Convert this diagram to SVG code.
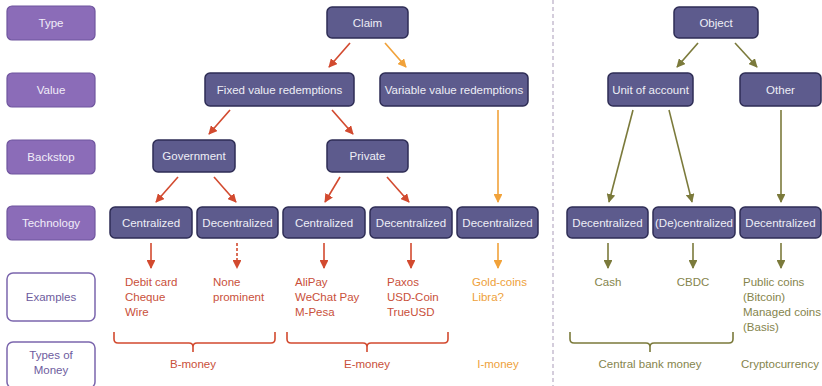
<svg xmlns="http://www.w3.org/2000/svg" width="822" height="386" viewBox="0 0 822 386">
<style>
text{font-family:"Liberation Sans Narrow","Liberation Sans",Arial,sans-serif;font-size:11.5px}
.lab rect{fill:#8b6cb8;stroke:#6f559e;stroke-width:1.2}
.lab text{fill:#f1ecf8;text-anchor:middle}
.lab2 rect{fill:#fff;stroke:#7b66ad;stroke-width:1.5}
.lab2 text{fill:#6e5c9e;text-anchor:middle}
.node rect{fill:#5d5b8d;stroke:#2e2d55;stroke-width:1.5}
.node text{fill:#eeeef6;text-anchor:middle}
.r{stroke:#d24a2f;stroke-width:1.6;fill:none}
.o{stroke:#f1a23a;stroke-width:1.6;fill:none}
.g{stroke:#7b7a3b;stroke-width:1.6;fill:none}
.tr{fill:#c9503a}
.to{fill:#ee9f3a}
.tg{fill:#85844c}
</style>
<defs>
<marker id="ar" viewBox="0 0 10 10" refX="9" refY="5" markerWidth="5.5" markerHeight="5.5" orient="auto"><path d="M0,0L10,5L0,10z" fill="#d24a2f"/></marker>
<marker id="ao" viewBox="0 0 10 10" refX="9" refY="5" markerWidth="5.5" markerHeight="5.5" orient="auto"><path d="M0,0L10,5L0,10z" fill="#f1a23a"/></marker>
<marker id="ag" viewBox="0 0 10 10" refX="9" refY="5" markerWidth="5.5" markerHeight="5.5" orient="auto"><path d="M0,0L10,5L0,10z" fill="#7b7a3b"/></marker>
</defs>
<rect width="822" height="386" fill="#fff"/>
<line x1="553" y1="0" x2="553" y2="386" stroke="#a99bb8" stroke-width="1" stroke-dasharray="4 3"/>

<g id="label-type" class="lab"><rect x="7" y="6" width="88" height="34" rx="5"/><text x="51" y="27">Type</text></g>
<g id="label-value" class="lab"><rect x="7" y="73" width="88" height="34" rx="5"/><text x="51" y="94">Value</text></g>
<g id="label-backstop" class="lab"><rect x="7" y="140" width="88" height="34" rx="5"/><text x="51" y="161">Backstop</text></g>
<g id="label-technology" class="lab"><rect x="7" y="206" width="88" height="34" rx="5"/><text x="51" y="227">Technology</text></g>
<g id="label-examples" class="lab2"><rect x="7" y="273" width="88" height="48" rx="6"/><text x="51" y="301">Examples</text></g>
<g id="label-types" class="lab2"><rect x="7" y="342" width="88" height="46" rx="6"/><text x="51" y="359">Types of</text><text x="51" y="374">Money</text></g>

<g id="n-claim" class="node"><rect x="327" y="7" width="81" height="31" rx="5"/><text x="367.5" y="27">Claim</text></g>
<g id="n-object" class="node"><rect x="674" y="7" width="84" height="31" rx="5"/><text x="716" y="27">Object</text></g>
<g id="n-fixed" class="node"><rect x="205" y="73" width="149" height="33" rx="5"/><text x="279.5" y="94">Fixed value redemptions</text></g>
<g id="n-variable" class="node"><rect x="380" y="73" width="148" height="33" rx="5"/><text x="454" y="94">Variable value redemptions</text></g>
<g id="n-unit" class="node"><rect x="608" y="73" width="85" height="33" rx="5"/><text x="650.5" y="94">Unit of account</text></g>
<g id="n-other" class="node"><rect x="740" y="73" width="81" height="33" rx="5"/><text x="780.5" y="94">Other</text></g>
<g id="n-government" class="node"><rect x="153" y="140" width="82" height="32" rx="5"/><text x="194" y="160">Government</text></g>
<g id="n-private" class="node"><rect x="327" y="140" width="81" height="32" rx="5"/><text x="367.5" y="160">Private</text></g>
<g id="n-b-central" class="node"><rect x="110" y="207" width="82" height="31" rx="5"/><text x="151" y="227">Centralized</text></g>
<g id="n-b-decentral" class="node"><rect x="197" y="207" width="81" height="31" rx="5"/><text x="237.5" y="227">Decentralized</text></g>
<g id="n-e-central" class="node"><rect x="283" y="207" width="82" height="31" rx="5"/><text x="324" y="227">Centralized</text></g>
<g id="n-e-decentral" class="node"><rect x="370" y="207" width="82" height="31" rx="5"/><text x="411" y="227">Decentralized</text></g>
<g id="n-i-decentral" class="node"><rect x="457" y="207" width="81" height="31" rx="5"/><text x="497.5" y="227">Decentralized</text></g>
<g id="n-cash-decentral" class="node"><rect x="567" y="207" width="81" height="31" rx="5"/><text x="607.5" y="227">Decentralized</text></g>
<g id="n-cbdc-decentral" class="node"><rect x="653" y="207" width="82" height="31" rx="5"/><text x="694" y="227">(De)centralized</text></g>
<g id="n-crypto-decentral" class="node"><rect x="740" y="207" width="81" height="31" rx="5"/><text x="780.5" y="227">Decentralized</text></g>

<g id="connectors">
<line class="r" x1="350" y1="43" x2="329" y2="67" marker-end="url(#ar)"/>
<line class="o" x1="385" y1="43" x2="406" y2="67" marker-end="url(#ao)"/>
<line class="r" x1="230" y1="110" x2="209" y2="134" marker-end="url(#ar)"/>
<line class="r" x1="332" y1="110" x2="353" y2="134" marker-end="url(#ar)"/>
<line class="o" x1="498" y1="110" x2="498" y2="202" marker-end="url(#ao)"/>
<line class="r" x1="178" y1="177" x2="156" y2="202" marker-end="url(#ar)"/>
<line class="r" x1="214" y1="177" x2="236" y2="202" marker-end="url(#ar)"/>
<line class="r" x1="340" y1="177" x2="325" y2="202" marker-end="url(#ar)"/>
<line class="r" x1="387" y1="177" x2="409" y2="202" marker-end="url(#ar)"/>
<line class="g" x1="698" y1="43" x2="677" y2="67" marker-end="url(#ag)"/>
<line class="g" x1="735" y1="43" x2="757" y2="67" marker-end="url(#ag)"/>
<line class="g" x1="633" y1="110" x2="609" y2="202" marker-end="url(#ag)"/>
<line class="g" x1="669" y1="110" x2="692" y2="202" marker-end="url(#ag)"/>
<line class="g" x1="781" y1="110" x2="781" y2="202" marker-end="url(#ag)"/>
<line class="r" x1="151" y1="243" x2="151" y2="268" marker-end="url(#ar)"/>
<line class="r" x1="237" y1="243" x2="237" y2="268" stroke-dasharray="3 2" marker-end="url(#ar)"/>
<line class="r" x1="324" y1="243" x2="324" y2="268" marker-end="url(#ar)"/>
<line class="r" x1="411" y1="243" x2="411" y2="268" marker-end="url(#ar)"/>
<line class="o" x1="498" y1="243" x2="498" y2="268" marker-end="url(#ao)"/>
<line class="g" x1="608" y1="243" x2="608" y2="268" marker-end="url(#ag)"/>
<line class="g" x1="693" y1="243" x2="693" y2="268" marker-end="url(#ag)"/>
<line class="g" x1="781" y1="243" x2="781" y2="268" marker-end="url(#ag)"/>
<path class="r" d="M114,332V339Q114,343 118,343H189Q193,343 193,347V352M193,347Q193,343 197,343H271Q275,343 275,339V332"/>
<path class="r" d="M287,332V339Q287,343 291,343H363Q367,343 367,347V352M367,347Q367,343 371,343H444Q448,343 448,339V332"/>
<path class="g" d="M570,332V339Q570,343 574,343H646Q650,343 650,347V352M650,347Q650,343 654,343H729Q733,343 733,339V332"/>
</g>

<g id="examples">
<text class="tr" x="125" y="286">Debit card</text>
<text class="tr" x="125" y="301">Cheque</text>
<text class="tr" x="125" y="316">Wire</text>
<text class="tr" x="213" y="286">None</text>
<text class="tr" x="213" y="301">prominent</text>
<text class="tr" x="295" y="286">AliPay</text>
<text class="tr" x="295" y="301">WeChat Pay</text>
<text class="tr" x="295" y="316">M-Pesa</text>
<text class="tr" x="387" y="286">Paxos</text>
<text class="tr" x="387" y="301">USD-Coin</text>
<text class="tr" x="387" y="316">TrueUSD</text>
<text class="to" x="472" y="286">Gold-coins</text>
<text class="to" x="472" y="301">Libra?</text>
<text class="tg" x="608" y="286" text-anchor="middle">Cash</text>
<text class="tg" x="693" y="286" text-anchor="middle">CBDC</text>
<text class="tg" x="743" y="286">Public coins</text>
<text class="tg" x="743" y="301">(Bitcoin)</text>
<text class="tg" x="743" y="316">Managed coins</text>
<text class="tg" x="743" y="331">(Basis)</text>
</g>
<g id="money-types">
<text class="tr" x="193" y="368" text-anchor="middle">B-money</text>
<text class="tr" x="367" y="368" text-anchor="middle">E-money</text>
<text class="to" x="498" y="368" text-anchor="middle">I-money</text>
<text class="tg" x="650" y="368" text-anchor="middle">Central bank money</text>
<text class="tg" x="780" y="368" text-anchor="middle">Cryptocurrency</text>
</g>
</svg>
